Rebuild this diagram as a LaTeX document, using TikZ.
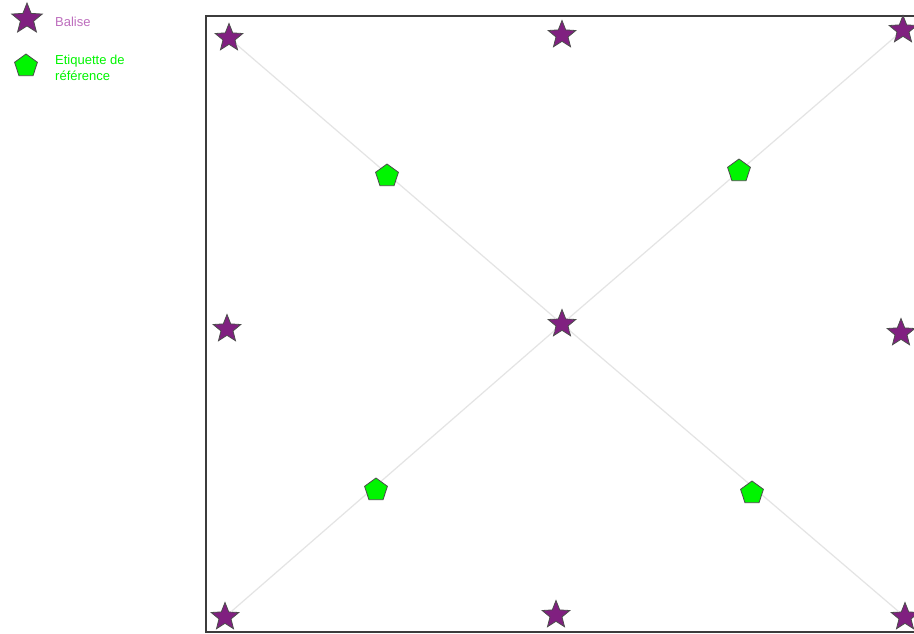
\documentclass[tikz,border=0pt]{standalone}
\usepackage{fontspec}
\setmainfont{Liberation Sans}
\usetikzlibrary{shapes.geometric}
\definecolor{balisecol}{RGB}{128,32,128}
\definecolor{balisetxt}{RGB}{190,110,190}
\definecolor{etiqcol}{RGB}{0,245,0}
\definecolor{framecol}{RGB}{60,60,60}
\definecolor{diagcol}{RGB}{228,228,228}

\begin{document}
\begin{tikzpicture}[
    x=1pt, y=-1pt,
    balise/.style={star, star points=5, star point ratio=2.3, draw=black!70, line width=0.8pt, fill=balisecol, minimum size=29pt, inner sep=0pt},
    etiquette/.style={regular polygon, regular polygon sides=5, draw=black!70, line width=0.8pt, fill=etiqcol, minimum size=24pt, inner sep=0pt},
    legendtext/.style={anchor=west, font=\fontsize{13}{16}\selectfont, align=left, inner sep=0pt}
]
    \useasboundingbox (0,0) rectangle (914,634);
    \fill[white] (0,0) rectangle (914,634);

    % cadre
    \draw[framecol, line width=2pt] (920,16) -- (206,16) -- (206,632) -- (920,632);

    % balises
    \node[balise] (b1) at (229,38) {};
    \node[balise] (b2) at (562,35) {};
    \node[balise] (b3) at (903,30) {};
    \node[balise] (b4) at (227,329) {};
    \node[balise] (b5) at (562,324) {};
    \node[balise] (b6) at (901,333) {};
    \node[balise] (b7) at (225,617) {};
    \node[balise] (b8) at (556,615) {};
    \node[balise] (b9) at (905,617) {};

    % diagonales
    \draw[diagcol, line width=1.2pt] (b1) -- (b5);
    \draw[diagcol, line width=1.2pt] (b5) -- (b9);
    \draw[diagcol, line width=1.2pt] (b3) -- (b5);
    \draw[diagcol, line width=1.2pt] (b5) -- (b7);

    % etiquettes de reference
    \node[etiquette] (e1) at (387,176) {};
    \node[etiquette] (e2) at (739,171) {};
    \node[etiquette] (e3) at (376,490) {};
    \node[etiquette] (e4) at (752,493) {};

    % legende
    \node[balise, minimum size=32pt] (lb) at (27,19) {};
    \node[legendtext, text=balisetxt] (lbt) at (55,22) {Balise};
    \node[etiquette] (le) at (26,66) {};
    \node[legendtext, text=etiqcol] (let) at (55,68) {Etiquette de\\référence};
\end{tikzpicture}
\end{document}
